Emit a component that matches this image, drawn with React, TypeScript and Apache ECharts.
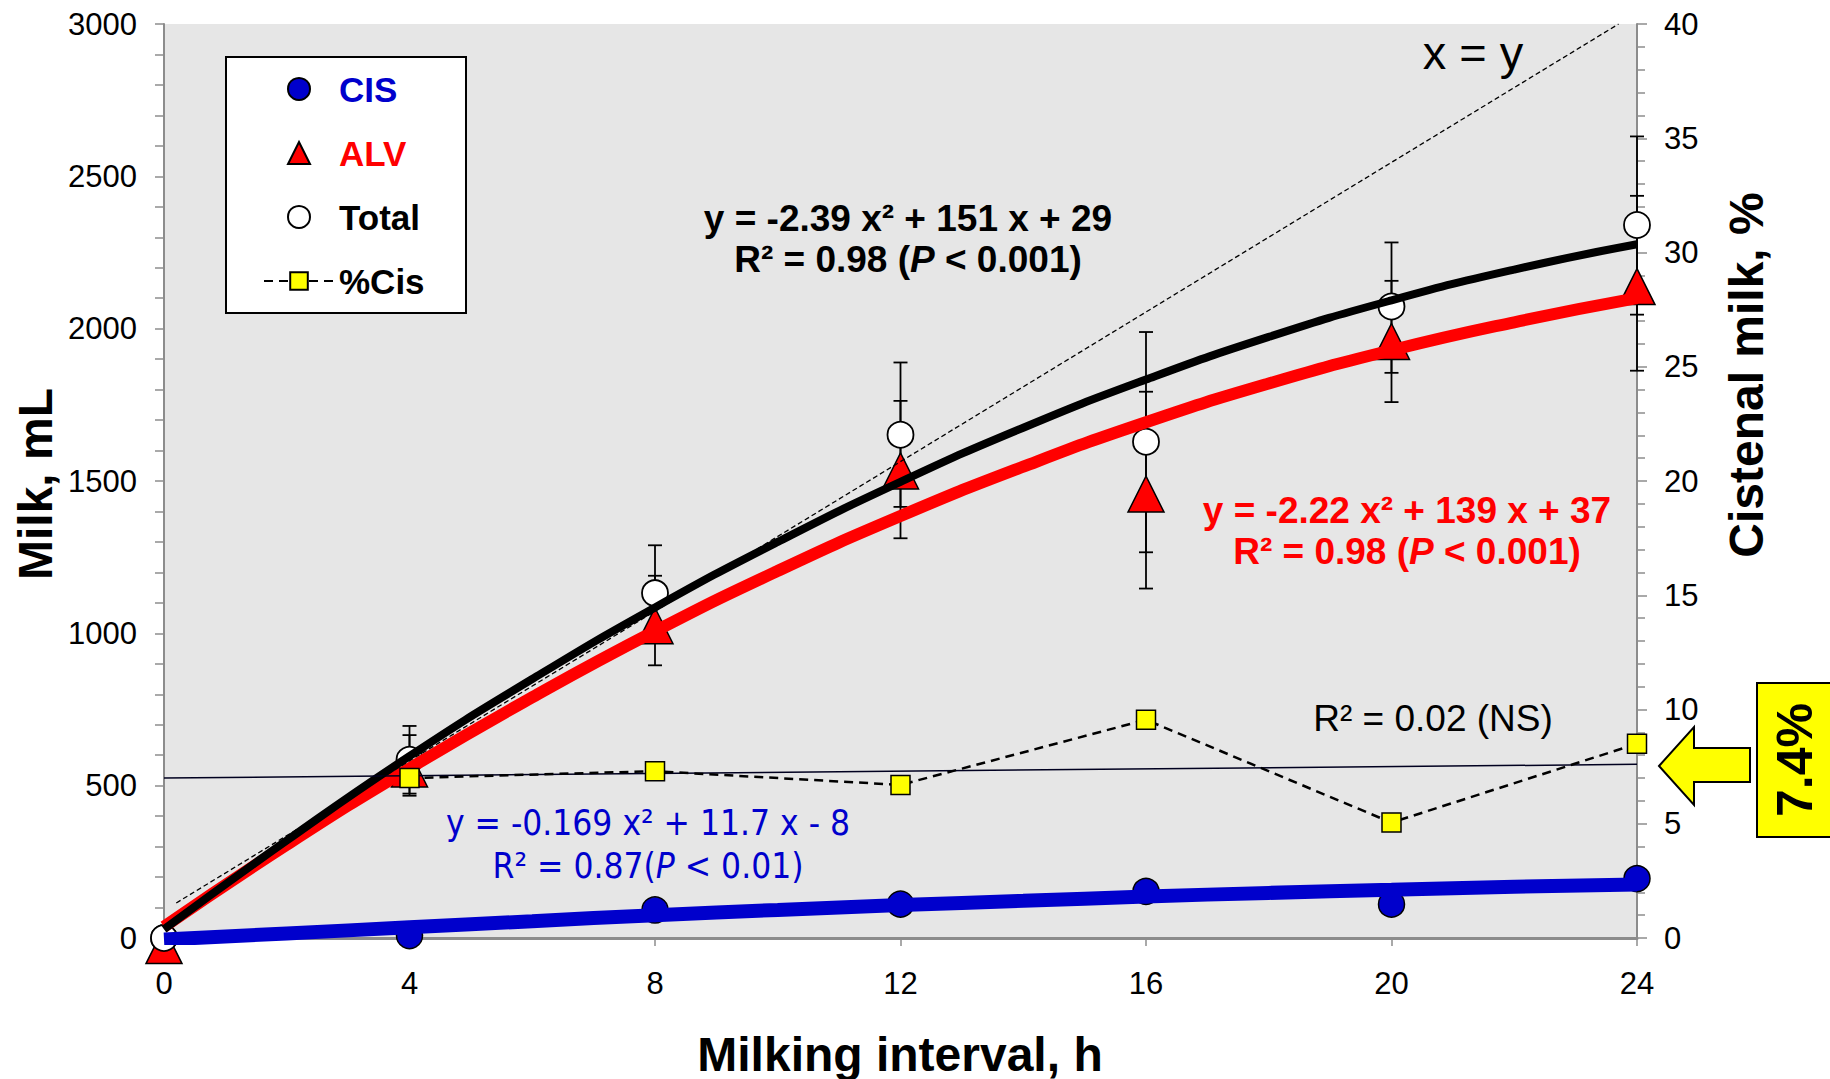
import React, { useEffect, useRef } from 'react';
import * as echarts from 'echarts';

const FONT = '"Liberation Sans", Arial, Helvetica, sans-serif';
const NARROW = '"Liberation Sans Narrow", "Arial Narrow", "DejaVu Sans Condensed", sans-serif';

const hours = [0, 4, 8, 12, 16, 20, 24];
const cisMilk = [0, 8, 92, 111, 153, 111, 195];
const alvMilk = [-25, 555, 1025, 1533, 1457, 1958, 2138];
const totalMilk = [0, 585, 1132, 1652, 1629, 2073, 2340];
const pctHours = [4, 8, 12, 16, 20, 24];
const pctCis = [7.0, 7.3, 6.7, 9.55, 5.05, 8.5];

// Error bar ends (mL)
const errHours = [4, 8, 12, 16, 20, 24];
const totalLow = [474, 975, 1415, 1266, 1855, 2046];
const totalHigh = [696, 1289, 1889, 1989, 2283, 2631];
const alvLow = [467, 895, 1312, 1147, 1759, 1862];
const alvHigh = [666, 1189, 1763, 1793, 2157, 2436];

// Fitted curves
const fitHours = [0, 2, 4, 6, 8, 10, 12, 14, 16, 18, 20, 22, 24];
const totalFit = [29, 320, 597, 850, 1085, 1300, 1497, 1675, 1833, 1973, 2093, 2194, 2277];
const alvFit = [37, 306, 557, 790, 1007, 1205, 1385, 1547, 1693, 1820, 1929, 2021, 2100];
const cisFit = [-5, 15, 35, 55, 75, 92, 108, 122, 136, 148, 158, 168, 176];

// %Cis trend (right axis) and x = y reference line (left axis)
const pctTrendHours = [0, 24];
const pctTrend = [7.0, 7.6];
const xyHours = [0.2, 23.7];
const xyMilk = [115, 3000];

// Axis settings
const xMin = 0, xMax = 24, xStep = 4;
const yMin = 0, yMax = 3000, yStep = 500;
const y2Min = 0, y2Max = 40, y2Step = 5;

// Legend triangle icon padded to the 70x22 legend item box so it is not stretched
const TRI_ICON = 'path://M0 0M70 22M35 0L46 22L24 22Z';

const pairs = (xs: number[], ys: number[]) => xs.map((x, i) => [x, ys[i]]);

export default function App() {
  const ref = useRef<HTMLDivElement>(null);
  useEffect(() => {
    if (!ref.current) return;
    const chart = echarts.init(ref.current, undefined, { renderer: 'svg' });

    const errData: number[][] = [];
    errHours.forEach((h, i) => {
      errData.push([h, totalLow[i], totalHigh[i]]);
      errData.push([h, alvLow[i], alvHigh[i]]);
    });

    const axisLabel = { color: '#000', fontFamily: FONT, fontSize: 31, formatter: (v: number) => String(v) };
    const grayLine = { color: '#8c8c8c', width: 2 };

    const option: any = {
      animation: false,
      backgroundColor: '#fff',
      grid: { left: 164, right: 193, top: 24, bottom: 141, show: true, backgroundColor: '#E6E6E6', borderWidth: 0 },
      legend: {
        orient: 'vertical', left: 263, top: 69, padding: 0, itemGap: 24, itemWidth: 70, itemHeight: 22,
        selectedMode: false,
        textStyle: { fontFamily: FONT, fontSize: 35, fontWeight: 'bold', lineHeight: 40 },
        data: [
          { name: 'CIS', textStyle: { color: '#0000CC' } },
          { name: 'ALV', icon: TRI_ICON, textStyle: { color: '#FF0000' } },
          { name: 'Total', textStyle: { color: '#000' } },
          { name: '%Cis', textStyle: { color: '#000' } },
        ],
        z: 5,
      },
      xAxis: {
        type: 'value', min: xMin, max: xMax, interval: xStep,
        axisLine: { show: true, onZero: false, lineStyle: { color: '#8c8c8c', width: 3 } },
        axisTick: { show: true, length: 8, lineStyle: { color: '#8c8c8c', width: 1.5 } },
        axisLabel: { ...axisLabel, margin: 30 },
        splitLine: { show: false },
      },
      yAxis: [
        {
          type: 'value', min: yMin, max: yMax, interval: yStep, position: 'left',
          axisLine: { show: true, lineStyle: grayLine },
          axisTick: { show: true, length: 9, lineStyle: { color: '#8c8c8c', width: 1.5 } },
          minorTick: { show: true, splitNumber: 5, length: 9, lineStyle: { color: '#8c8c8c', width: 1.5 } },
          axisLabel: { ...axisLabel, margin: 27 },
          splitLine: { show: false },
        },
        {
          type: 'value', min: y2Min, max: y2Max, interval: y2Step, position: 'right',
          axisLine: { show: true, lineStyle: grayLine },
          axisTick: { show: true, length: 10, lineStyle: { color: '#8c8c8c', width: 1.5 } },
          minorTick: { show: true, splitNumber: 5, length: 8, lineStyle: { color: '#8c8c8c', width: 1.5 } },
          axisLabel: { ...axisLabel, margin: 27 },
          splitLine: { show: false },
        },
      ],
      series: [
        {
          type: 'custom', name: 'SE', z: 1,
          data: errData,
          encode: { x: 0, y: [1, 2] },
          renderItem: (params: any, api: any) => {
            const x = api.value(0);
            const p1 = api.coord([x, api.value(1)]);
            const p2 = api.coord([x, api.value(2)]);
            const w = 7;
            const st = { stroke: '#000', lineWidth: 1.8 };
            return {
              type: 'group',
              children: [
                { type: 'line', shape: { x1: p1[0], y1: p1[1], x2: p2[0], y2: p2[1] }, style: st },
                { type: 'line', shape: { x1: p1[0] - w, y1: p1[1], x2: p1[0] + w, y2: p1[1] }, style: st },
                { type: 'line', shape: { x1: p2[0] - w, y1: p2[1], x2: p2[0] + w, y2: p2[1] }, style: st },
              ],
            };
          },
        },
        {
          type: 'scatter', name: 'CIS', z: 2, symbol: 'circle', symbolSize: 26, clip: false,
          data: pairs(hours, cisMilk),
          itemStyle: { color: '#0000CC', borderColor: '#000', borderWidth: 1.5, opacity: 1 },
        },
        {
          type: 'scatter', name: 'ALV', z: 2, symbol: 'triangle', symbolSize: [36, 36], clip: false,
          data: pairs(hours, alvMilk),
          itemStyle: { color: '#FF0000', borderColor: '#000', borderWidth: 1.5, opacity: 1 },
        },
        {
          type: 'scatter', name: 'Total', z: 2, symbol: 'circle', symbolSize: 26, clip: false,
          data: pairs(hours, totalMilk),
          itemStyle: { color: '#fff', borderColor: '#000', borderWidth: 1.8, opacity: 1 },
        },
        {
          type: 'line', name: 'CIS fit', z: 3, smooth: true, showSymbol: false, symbol: 'none',
          data: pairs(fitHours, cisFit),
          lineStyle: { color: '#0000CC', width: 14 },
        },
        {
          type: 'line', name: 'ALV fit', z: 3, smooth: true, showSymbol: false, symbol: 'none',
          data: pairs(fitHours, alvFit),
          lineStyle: { color: '#FF0000', width: 12 },
        },
        {
          type: 'line', name: 'Total fit', z: 3, smooth: true, showSymbol: false, symbol: 'none',
          data: pairs(fitHours, totalFit),
          lineStyle: { color: '#000', width: 8 },
        },
        {
          type: 'line', name: '%Cis trend', z: 4, yAxisIndex: 1, showSymbol: false, symbol: 'none',
          data: pairs(pctTrendHours, pctTrend),
          lineStyle: { color: '#000020', width: 1.5 },
        },
        {
          type: 'line', name: '%Cis', z: 5, yAxisIndex: 1, symbol: 'rect', symbolSize: 19,
          data: pairs(pctHours, pctCis),
          lineStyle: { color: '#000', width: 2.5, type: [9, 6] },
          itemStyle: { color: '#FFFF00', borderColor: '#000', borderWidth: 1.5, opacity: 1 },
        },
        {
          type: 'line', name: 'x = y', z: 5, showSymbol: false, symbol: 'none',
          data: pairs(xyHours, xyMilk),
          lineStyle: { color: '#000', width: 1.3, type: [5, 3] },
        },
      ],
      graphic: [
        { type: 'rect', z: 4, shape: { x: 226, y: 57, width: 240, height: 256 }, style: { fill: '#fff', stroke: '#000', lineWidth: 2 } },
        {
          type: 'text', z: 10, x: 1473, y: 52,
          style: { text: 'x = y', fontFamily: FONT, fontSize: 47, fill: '#000', textAlign: 'center', textVerticalAlign: 'middle' },
        },
        {
          type: 'text', z: 10, x: 908, y: 218,
          style: { text: 'y = -2.39 x² + 151 x + 29', fontFamily: FONT, fontSize: 37, fontWeight: 'bold', fill: '#000', textAlign: 'center', textVerticalAlign: 'middle' },
        },
        {
          type: 'text', z: 10, x: 908, y: 259,
          style: {
            text: 'R² = 0.98 ({i|P} < 0.001)', fontFamily: FONT, fontSize: 37, fontWeight: 'bold', fill: '#000', textAlign: 'center', textVerticalAlign: 'middle',
            rich: { i: { fontFamily: FONT, fontSize: 37, fontWeight: 'bold', fontStyle: 'italic', fill: '#000' } },
          },
        },
        {
          type: 'text', z: 10, x: 1407, y: 510,
          style: { text: 'y = -2.22 x² + 139 x + 37', fontFamily: FONT, fontSize: 37, fontWeight: 'bold', fill: '#FF0000', textAlign: 'center', textVerticalAlign: 'middle' },
        },
        {
          type: 'text', z: 10, x: 1407, y: 551,
          style: {
            text: 'R² = 0.98 ({i|P} < 0.001)', fontFamily: FONT, fontSize: 37, fontWeight: 'bold', fill: '#FF0000', textAlign: 'center', textVerticalAlign: 'middle',
            rich: { i: { fontFamily: FONT, fontSize: 37, fontWeight: 'bold', fontStyle: 'italic', fill: '#FF0000' } },
          },
        },
        {
          type: 'text', z: 10, x: 648, y: 823,
          style: { text: 'y = -0.169 x² + 11.7 x - 8', fontFamily: NARROW, fontSize: 35, fill: '#0000CC', textAlign: 'center', textVerticalAlign: 'middle' },
        },
        {
          type: 'text', z: 10, x: 648, y: 866,
          style: {
            text: 'R² = 0.87({i|P} < 0.01)', fontFamily: NARROW, fontSize: 35, fill: '#0000CC', textAlign: 'center', textVerticalAlign: 'middle',
            rich: { i: { fontFamily: NARROW, fontSize: 35, fontStyle: 'italic', fill: '#0000CC' } },
          },
        },
        {
          type: 'text', z: 10, x: 1433, y: 718,
          style: { text: 'R² = 0.02 (NS)', fontFamily: FONT, fontSize: 37, fill: '#000', textAlign: 'center', textVerticalAlign: 'middle' },
        },
        {
          type: 'text', z: 10, x: 35, y: 484, rotation: Math.PI / 2,
          style: { text: 'Milk, mL', fontFamily: FONT, fontSize: 48, fontWeight: 'bold', fill: '#000', textAlign: 'center', textVerticalAlign: 'middle' },
        },
        {
          type: 'text', z: 10, x: 1746, y: 375, rotation: Math.PI / 2,
          style: { text: 'Cistenal milk, %', fontFamily: FONT, fontSize: 48, fontWeight: 'bold', fill: '#000', textAlign: 'center', textVerticalAlign: 'middle' },
        },
        {
          type: 'text', z: 10, x: 900, y: 1054,
          style: { text: 'Milking interval, h', fontFamily: FONT, fontSize: 48, fontWeight: 'bold', fill: '#000', textAlign: 'center', textVerticalAlign: 'middle' },
        },
        {
          type: 'polygon', z: 10,
          shape: { points: [[1659, 766], [1694, 727], [1694, 748], [1750, 748], [1750, 782], [1694, 782], [1694, 805]] },
          style: { fill: '#FFFF00', stroke: '#000', lineWidth: 2 },
        },
        { type: 'rect', z: 10, shape: { x: 1757, y: 683, width: 100, height: 154 }, style: { fill: '#FFFF00', stroke: '#000', lineWidth: 2 } },
        {
          type: 'text', z: 11, x: 1795, y: 760, rotation: Math.PI / 2,
          style: { text: '7.4%', fontFamily: FONT, fontSize: 50, fontWeight: 'bold', fill: '#000', textAlign: 'center', textVerticalAlign: 'middle' },
        },
      ],
    };
    chart.setOption(option);
    return () => chart.dispose();
  }, []);
  return <div ref={ref} style={{ position: 'fixed', left: 0, top: 0, width: 1830, height: 1079 }} />;
}
